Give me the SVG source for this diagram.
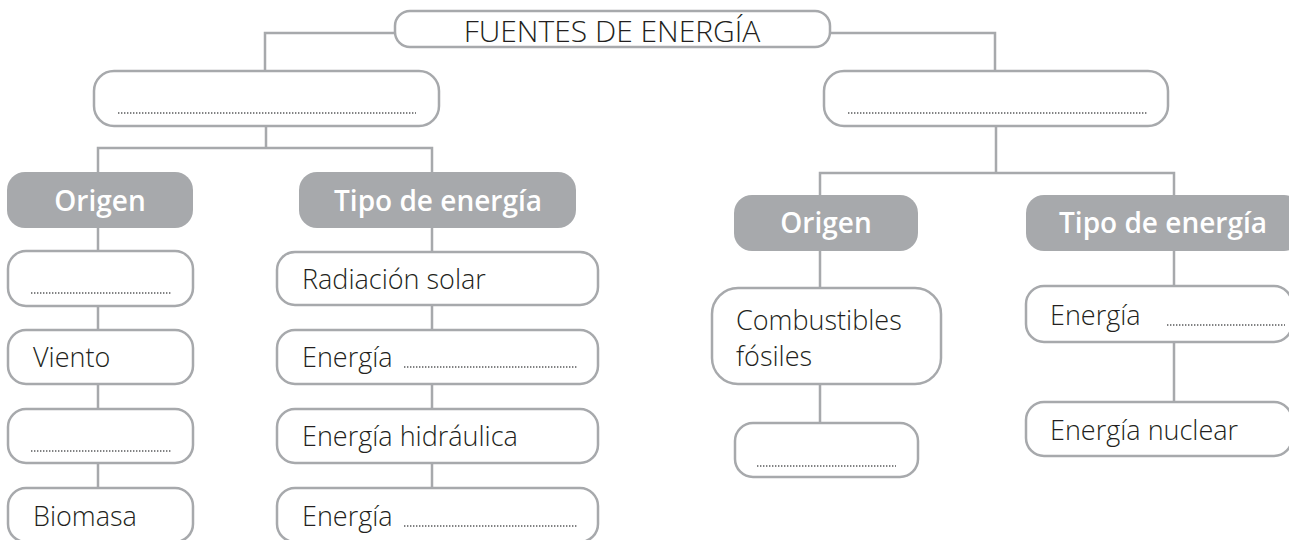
<svg xmlns="http://www.w3.org/2000/svg" width="1289" height="540" viewBox="0 0 1289 540">
<style>
.box{fill:#fff;stroke:#a7a9ac;stroke-width:2.5}
.head{fill:#a7a9ac;stroke:none}
.ht{font-family:"Open Sans","Liberation Sans",sans-serif;font-weight:600;font-size:28px;fill:#fff;text-anchor:middle}
.t{font-family:"Open Sans","Liberation Sans",sans-serif;font-weight:300;font-size:27px;fill:#231f20}
.title{font-family:"Open Sans","Liberation Sans",sans-serif;font-weight:300;font-size:30px;fill:#231f20;text-anchor:middle}
.dots{stroke:#58595b;stroke-width:1.6;stroke-dasharray:1.4 1.6;fill:none}
.conn{stroke:#a7a9ac;stroke-width:2.5;fill:none}
</style>
<rect width="1289" height="540" fill="#fff"/>
<g id="connectors" class="conn">
<path d="M395 33H265V71"/>
<path d="M830 33H995V71"/>
<path d="M266 126V148M98 172V148H432V172"/>
<path d="M996 126V173M820 195V173H1174V195"/>
<path d="M98 228V251M98 306V330M98 384V409M98 463V488"/>
<path d="M432 228V252M432 305V330M432 384V409M432 463V488"/>
<path d="M820 251V288M820 384V423"/>
<path d="M1174 251V286M1174 342V402"/>
</g>
<g id="root"><rect class="box" x="395" y="11" width="435" height="36" rx="15"/><text class="title" x="612" y="42">FUENTES DE ENERGÍA</text></g>
<g id="left-main"><rect class="box" x="94" y="71" width="345" height="55" rx="20"/><line class="dots" x1="118" y1="113" x2="416" y2="113"/></g>
<g id="right-main"><rect class="box" x="824" y="71" width="344" height="55" rx="20"/><line class="dots" x1="848" y1="113" x2="1147" y2="113"/></g>
<g id="l-origen"><rect class="head" x="7" y="172" width="186" height="56" rx="18"/><text class="ht" x="100" y="211">Origen</text></g>
<g id="l-tipo"><rect class="head" x="299" y="172" width="277" height="56" rx="18"/><text class="ht" x="438" y="211">Tipo de energía</text></g>
<g id="l-o1"><rect class="box" x="8" y="251" width="185" height="55" rx="18"/><line class="dots" x1="31" y1="293" x2="171" y2="293"/></g>
<g id="l-o2"><rect class="box" x="8" y="330" width="185" height="54" rx="18"/><text class="t" x="33" y="367">Viento</text></g>
<g id="l-o3"><rect class="box" x="8" y="409" width="185" height="54" rx="18"/><line class="dots" x1="31" y1="451" x2="171" y2="451"/></g>
<g id="l-o4"><rect class="box" x="8" y="488" width="185" height="54" rx="18"/><text class="t" x="33" y="526">Biomasa</text></g>
<g id="l-t1"><rect class="box" x="277" y="252" width="321" height="53" rx="18"/><text class="t" x="302" y="289">Radiación solar</text></g>
<g id="l-t2"><rect class="box" x="277" y="330" width="321" height="54" rx="18"/><text class="t" x="302" y="367">Energía</text><line class="dots" x1="404" y1="367" x2="578" y2="367"/></g>
<g id="l-t3"><rect class="box" x="277" y="409" width="321" height="54" rx="18"/><text class="t" x="302" y="446">Energía hidráulica</text></g>
<g id="l-t4"><rect class="box" x="277" y="488" width="321" height="54" rx="18"/><text class="t" x="302" y="526">Energía</text><line class="dots" x1="404" y1="526" x2="578" y2="526"/></g>
<g id="r-origen"><rect class="head" x="734" y="195" width="184" height="56" rx="18"/><text class="ht" x="826" y="233">Origen</text></g>
<g id="r-tipo"><rect class="head" x="1026" y="195" width="276" height="56" rx="18"/><text class="ht" x="1163" y="233">Tipo de energía</text></g>
<g id="r-o1"><rect class="box" x="712" y="288" width="229" height="96" rx="26"/><text class="t" x="736" y="330">Combustibles</text><text class="t" x="736" y="366">fósiles</text></g>
<g id="r-o2"><rect class="box" x="735" y="423" width="183" height="54" rx="18"/><line class="dots" x1="757" y1="466" x2="896" y2="466"/></g>
<g id="r-t1"><rect class="box" x="1026" y="286" width="266" height="56" rx="18"/><text class="t" x="1050" y="325">Energía</text><line class="dots" x1="1167" y1="325" x2="1285" y2="325"/></g>
<g id="r-t2"><rect class="box" x="1026" y="402" width="266" height="54" rx="18"/><text class="t" x="1050" y="440">Energía nuclear</text></g>
</svg>
